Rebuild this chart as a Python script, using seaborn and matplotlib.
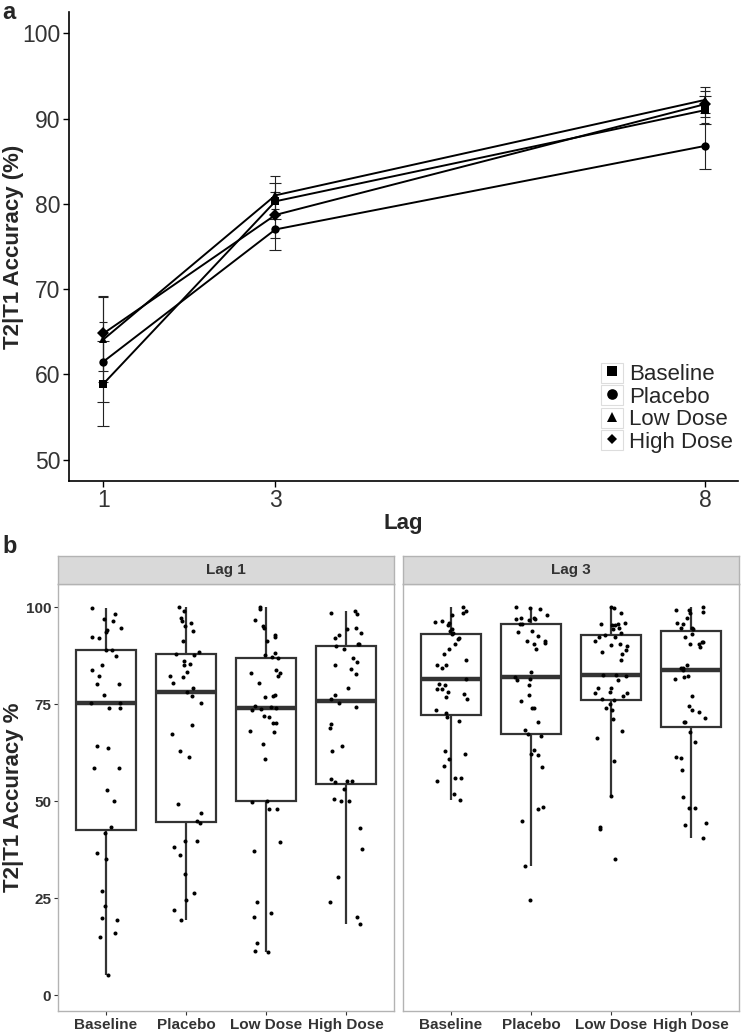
import numpy as np
import pandas as pd
import seaborn as sns
import matplotlib.pyplot as plt
from matplotlib.patches import Rectangle
from matplotlib.lines import Line2D
from matplotlib.legend_handler import HandlerTuple

# ---- panel a: mean accuracy per lag ----
conditions = ["Baseline", "Placebo", "Low Dose", "High Dose"]
lags = [1, 3, 8]
mean_baseline = [58.9, 80.3, 91.0]
mean_placebo = [61.5, 77.0, 86.8]
mean_low = [64.1, 81.0, 92.2]
mean_high = [64.8, 78.7, 91.7]
se_baseline = [5.0, 2.1, 1.6]
se_placebo = [4.7, 2.4, 2.7]
se_low = [5.0, 2.3, 1.5]
se_high = [4.4, 2.7, 1.5]

# ---- panel b: individual accuracies ----
lag1_baseline = [99.9, 98.2, 97.0, 96.5, 94.6, 94.2, 93.5, 92.4, 92.0, 88.9, 88.9, 87.4, 85.2,
                 83.9, 82.2, 80.3, 80.1, 77.4, 75.2, 75.2, 73.9, 74.1, 64.2, 63.6, 58.5, 58.5,
                 53.0, 50.1, 43.3, 41.9, 36.7, 35.1, 26.9, 22.9, 19.8, 19.3, 16.1, 15.0, 5.2]
lag1_placebo = [100.0, 99.1, 97.3, 95.9, 96.5, 95.2, 94.0, 91.4, 88.4, 88.0, 87.7, 86.2, 85.0,
                85.4, 83.4, 81.9, 82.2, 80.4, 79.2, 78.1, 77.2, 75.4, 69.6, 67.2, 62.9, 61.4,
                49.4, 46.9, 44.3, 45.0, 39.8, 39.8, 38.3, 36.1, 31.1, 26.4, 24.4, 21.9, 19.3]
lag1_low = [100.0, 99.5, 96.6, 95.2, 94.7, 92.9, 92.4, 91.2, 87.7, 88.1, 86.9, 87.2, 83.7, 83.1,
            83.1, 82.2, 80.4, 76.9, 77.5, 77.2, 74.5, 74.2, 73.4, 73.8, 73.9, 72.0, 71.6, 70.2,
            70.2, 67.9, 68.2, 64.7, 61.0, 49.8, 50.1, 48.1, 48.1, 39.4, 37.1, 23.9, 21.1, 20.1,
            13.4, 11.1, 11.4]
lag1_high = [99.1, 98.3, 98.5, 94.4, 94.7, 93.4, 92.9, 92.2, 90.5, 90.5, 89.9, 89.3, 87.0, 85.9,
             85.0, 84.2, 82.9, 79.2, 77.5, 76.4, 75.2, 74.2, 69.9, 68.9, 64.3, 63.0, 55.0, 55.7,
             55.3, 55.1, 53.1, 50.5, 50.0, 50.1, 43.2, 37.7, 30.4, 23.9, 20.1, 18.3]
lag3_baseline = [100.0, 99.1, 98.4, 97.9, 96.5, 96.3, 95.9, 95.4, 94.4, 94.0, 93.3, 93.0, 92.2,
                 91.9, 90.5, 89.2, 87.9, 86.4, 85.1, 84.3, 85.0, 81.4, 80.2, 80.0, 78.8, 78.8,
                 78.2, 77.6, 76.9, 76.4, 73.4, 72.7, 71.8, 70.6, 62.2, 62.9, 60.9, 59.2, 56.0,
                 56.1, 55.1, 51.8, 50.3]
lag3_placebo = [100.0, 99.8, 99.6, 98.0, 97.3, 97.0, 96.6, 97.3, 97.0, 95.7, 95.6, 94.0, 93.7,
                92.7, 91.4, 90.9, 91.4, 90.5, 89.3, 83.2, 81.5, 82.1, 81.3, 80.0, 77.5, 75.8,
                73.9, 73.9, 70.4, 68.3, 67.4, 66.7, 63.2, 61.9, 62.1, 58.8, 48.0, 48.4, 44.9,
                33.4, 24.4]
lag3_low = [100.0, 99.8, 98.5, 95.4, 95.9, 95.6, 95.7, 95.4, 94.4, 94.7, 93.3, 92.9, 92.4, 92.3,
            91.2, 90.6, 90.3, 90.1, 88.9, 88.4, 88.0, 86.4, 82.5, 82.5, 82.3, 81.2, 79.2, 79.2,
            78.2, 78.0, 78.0, 77.2, 76.4, 76.2, 75.0, 73.9, 73.4, 71.3, 68.2, 66.4, 60.4, 51.4,
            42.8, 43.4, 35.1]
lag3_high = [100.0, 99.2, 99.3, 98.7, 98.4, 97.2, 95.7, 95.9, 94.7, 94.4, 94.7, 93.2, 92.3, 91.1,
             91.1, 90.5, 90.5, 89.7, 85.2, 84.3, 84.3, 83.9, 82.2, 81.4, 81.9, 77.0, 74.5, 73.4,
             73.0, 71.4, 70.4, 70.4, 67.9, 65.2, 61.1, 61.4, 58.0, 51.0, 48.2, 48.2, 43.9, 44.4,
             40.4]

means = dict(zip(conditions, [mean_baseline, mean_placebo, mean_low, mean_high]))
ses = dict(zip(conditions, [se_baseline, se_placebo, se_low, se_high]))
marker_map = {"Baseline": "s", "Placebo": "o", "Low Dose": "^", "High Dose": "D"}
marker_size = {"Baseline": 8, "Placebo": 8.5, "Low Dose": 8.5, "High Dose": 5.5}

rows = []
for c in conditions:
    for lag, m in zip(lags, means[c]):
        rows.append({"lag": lag, "acc": m, "condition": c})
df_a = pd.DataFrame(rows)

raw = {"Lag 1": [lag1_baseline, lag1_placebo, lag1_low, lag1_high],
       "Lag 3": [lag3_baseline, lag3_placebo, lag3_low, lag3_high]}
rows = []
for lag_name, groups in raw.items():
    for c, vals in zip(conditions, groups):
        for v in vals:
            rows.append({"lag": lag_name, "condition": c, "acc": v})
df_b = pd.DataFrame(rows)

sns.set_style("white")
plt.rcParams["font.family"] = ["Liberation Sans", "DejaVu Sans"]

W, H = 742, 1035
fig = plt.figure(figsize=(W / 100, H / 100), dpi=100)

# ---------------- panel a ----------------
ax = fig.add_axes([69 / W, 1 - 481 / H, 669 / W, 469 / H])
for c in conditions:
    ax.errorbar(lags, means[c], yerr=ses[c], fmt="none", ecolor="#222222",
                elinewidth=0.8, capsize=3.5, capthick=0.8, zorder=1)
sns.lineplot(data=df_a, x="lag", y="acc", style="condition", style_order=conditions,
             markers=marker_map, dashes=False, color="black", linewidth=1.4,
             markeredgewidth=0, legend=False, ax=ax, zorder=2)
for line, c in zip(ax.lines, conditions):
    line.set_markersize(marker_size[c])

ax.set_xlim(0.6, 8.38)
ax.set_ylim(47.5, 102.5)
ax.set_xticks(lags)
ax.set_yticks([50, 60, 70, 80, 90, 100])
ax.tick_params(bottom=True, left=True, direction="out", length=4, width=1,
               color="black", labelcolor="#333333", labelsize=16.5, pad=2)
for s in ["top", "right"]:
    ax.spines[s].set_visible(False)
for s in ["left", "bottom"]:
    ax.spines[s].set_color("black")
    ax.spines[s].set_linewidth(1.2)
ax.set_xlabel("Lag", fontsize=16, fontweight="bold")
ax.set_ylabel("T2|T1 Accuracy (%)", fontsize=16, fontweight="bold")
ax.xaxis.set_label_coords(0.5, -0.068)
ax.yaxis.set_label_coords(-0.067, 0.5)

handles = [(Rectangle((0, 0), 1, 1, facecolor="white", edgecolor="#dddddd", linewidth=0.8),
            Line2D([], [], marker=marker_map[c], color="black", ls="",
                   markersize=marker_size[c] * 0.9, markeredgewidth=0))
           for c in conditions]
ax.legend(handles, conditions, handler_map={tuple: HandlerTuple()}, loc="lower left",
          bbox_to_anchor=(0.795, 0.06), frameon=False, handlelength=1.0, handleheight=1.0,
          handletextpad=0.25, labelspacing=0.0, borderpad=0, borderaxespad=0, fontsize=16)

fig.text(2 / W, 1 - 1 / H, "a", fontsize=17, fontweight="bold", va="top", ha="left")

# ---------------- panel b ----------------
for i, (lag_name, left) in enumerate(zip(["Lag 1", "Lag 3"], [58, 403])):
    axb = fig.add_axes([left / W, 1 - 1011 / H, 336 / W, 427 / H])
    sub = df_b[df_b["lag"] == lag_name]
    sns.boxplot(data=sub, x="condition", y="acc", order=conditions, color="white",
                linecolor="#333333", linewidth=1.6, width=0.75, showfliers=False,
                showcaps=False, medianprops={"linewidth": 3.2}, ax=axb)
    np.random.seed(7 + i)
    sns.stripplot(data=sub, x="condition", y="acc", order=conditions, color="black",
                  size=2.9, jitter=0.2, linewidth=0, ax=axb, zorder=3)
    axb.set_xlim(-0.6, 3.6)
    axb.set_ylim(-4.1, 106)
    axb.set_yticks([0, 25, 50, 75, 100])
    axb.set_xlabel("")
    axb.tick_params(bottom=True, left=(i == 0), direction="out", length=3, width=0.8,
                    color="#333333", labelcolor="#333333", labelsize=11, pad=2)
    for lab in axb.get_xticklabels() + axb.get_yticklabels():
        lab.set_fontweight("bold")
    if i == 0:
        axb.set_ylabel("T2|T1 Accuracy %", fontsize=16, fontweight="bold")
        axb.yaxis.set_label_coords(-0.101, 0.5)
    else:
        axb.set_ylabel("")
        axb.set_yticklabels([])
    for s in axb.spines.values():
        s.set_visible(True)
        s.set_color("#b3b3b3")
        s.set_linewidth(1.0)

    strip = fig.add_axes([left / W, 1 - 584 / H, 336 / W, 28 / H])
    strip.set_facecolor("#d9d9d9")
    strip.set_xticks([])
    strip.set_yticks([])
    for s in strip.spines.values():
        s.set_visible(True)
        s.set_color("#b3b3b3")
        s.set_linewidth(1.0)
    strip.text(0.5, 0.5, lag_name, ha="center", va="center", fontsize=11,
               fontweight="bold", color="#333333", transform=strip.transAxes)

fig.text(2 / W, 1 - 535 / H, "b", fontsize=17, fontweight="bold", va="top", ha="left")

fig.savefig("out.png", dpi=100)
